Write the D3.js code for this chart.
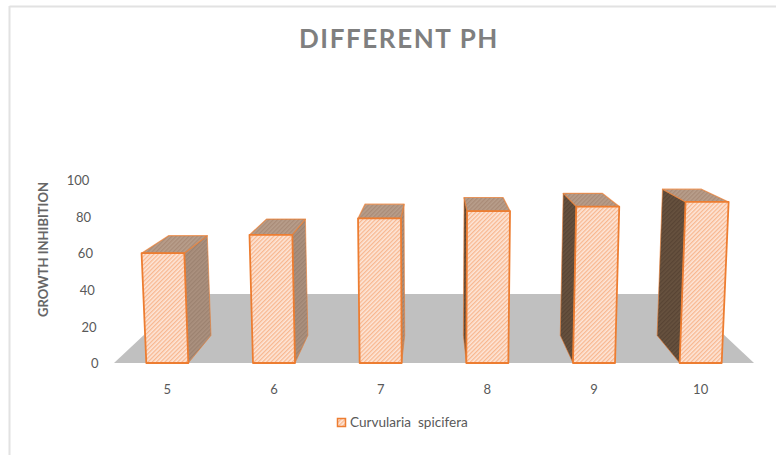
<!DOCTYPE html>
<html>
<head>
<meta charset="utf-8">
<script src="https://cdn.jsdelivr.net/npm/d3@7"></script>
<style>
  html, body { margin: 0; padding: 0; background: #fff; }
  svg { display: block; }
  text { font-family: Lato, "Open Sans", sans-serif; }
  .axis .domain { display: none; }
  .axis text { fill: #595959; font-size: 13px; }
</style>
</head>
<body>
<svg id="chart"></svg>
<script>
const categories = ["5", "6", "7", "8", "9", "10"];
const inhibition = [60, 70, 79, 83, 85.5, 88];
const yTicks = [0, 20, 40, 60, 80, 100];
const titleText = "DIFFERENT PH";
const yTitle = "GROWTH INHIBITION";
const seriesName = "Curvularia  spicifera";

const width = 776, height = 455;
const orange = "#ed7d31";

const svg = d3.select("#chart").attr("width", width).attr("height", height);

// front plane of the 3d box
const xScale = d3.scaleBand()
    .domain(categories)
    .range([114, 754])
    .paddingInner(0.606)
    .paddingOuter(0.303);

const yScale = d3.scaleLinear().domain([0, 100]).range([363, 180]);

// perspective: depth pulls towards the vanishing point, height leans away from it
const vanish = { x: 434.5, y: 63 };
const lean = 0.00015;
const barDepth = 0.092;
const floorDepth = 0.23;

function project(x, v, depth) {
    const h = yScale(0) - yScale(v);
    const fx = vanish.x + (x - vanish.x) * (1 + lean * h);
    const fy = yScale(v);
    return [fx + (vanish.x - fx) * depth, fy + (vanish.y - fy) * depth];
}

const line = pts => "M" + pts.map(p => p.join(",")).join("L") + "Z";

// patterns
const defs = svg.append("defs");
function hatch(id, bg, fg, size, sw) {
    const p = defs.append("pattern")
        .attr("id", id)
        .attr("patternUnits", "userSpaceOnUse")
        .attr("width", size)
        .attr("height", size)
        .attr("patternTransform", "rotate(45)");
    p.append("rect").attr("width", size).attr("height", size).attr("fill", bg);
    p.append("rect").attr("width", sw).attr("height", size).attr("fill", fg);
}
hatch("hatchFront", "#fde6d8", "#f8b78f", 3, 1.3);
hatch("hatchTop", "#b89e8b", "#a98b77", 3, 1.3);
hatch("hatchRight", "#ab917f", "#9c8270", 3, 1.3);
hatch("hatchLeft", "#67523f", "#584434", 3, 1.3);

// outer frame edge of the chart area
svg.append("line").attr("x1", 9.5).attr("x2", width).attr("y1", 6.5).attr("y2", 6.5)
    .attr("stroke", "#e2e2e2").attr("stroke-width", 2);
svg.append("line").attr("x1", 9.5).attr("x2", 9.5).attr("y1", 6).attr("y2", height)
    .attr("stroke", "#e2e2e2").attr("stroke-width", 2);

// floor
const [r0, r1] = xScale.range();
svg.append("path")
    .attr("d", line([project(r0, 0, 0), project(r1, 0, 0), project(r1, 0, floorDepth), project(r0, 0, floorDepth)]))
    .attr("fill", "#c0c0c0");

// title
svg.append("text")
    .attr("x", 399)
    .attr("y", 48)
    .attr("text-anchor", "middle")
    .attr("font-size", 26)
    .attr("font-weight", "bold")
    .attr("letter-spacing", 1.6)
    .attr("fill", "#7f7f7f")
    .text(titleText);

// y title
svg.append("text")
    .attr("transform", "translate(48,249.5) rotate(-90)")
    .attr("text-anchor", "middle")
    .attr("font-size", 13)
    .attr("font-weight", "bold")
    .attr("fill", "#666666")
    .text(yTitle);

// y axis, each tick follows the lean of the box
const yAxisG = svg.append("g").attr("class", "axis y-axis")
    .call(d3.axisLeft(yScale).tickValues(yTicks).tickSize(0).tickPadding(0));
yAxisG.selectAll(".tick")
    .attr("transform", d => `translate(${project(98.5, d, 0)[0]},${yScale(d) + 1})`);

// x axis
svg.append("g").attr("class", "axis x-axis")
    .attr("transform", "translate(0,381.5)")
    .call(d3.axisBottom(xScale).tickSize(0).tickPadding(3));

// bars
const data = categories.map((c, i) => ({ key: c, value: inhibition[i] }));
const bw = xScale.bandwidth();

const bars = svg.append("g").selectAll("g")
    .data(data)
    .join("g")
    .attr("class", "bar");

const corner = (d, side, v, depth) => project(xScale(d.key) + side * bw, v, depth);

// left side face shows only right of the vanishing point
bars.filter(d => xScale(d.key) > vanish.x).append("path")
    .attr("d", d => line([corner(d, 0, 0, 0), corner(d, 0, 0, barDepth), corner(d, 0, d.value, barDepth), corner(d, 0, d.value, 0)]))
    .attr("fill", "url(#hatchLeft)")
    .attr("stroke", orange).attr("stroke-opacity", 0.6).attr("stroke-width", 1);

// right side face
bars.filter(d => xScale(d.key) + bw < vanish.x).append("path")
    .attr("d", d => line([corner(d, 1, 0, 0), corner(d, 1, 0, barDepth), corner(d, 1, d.value, barDepth), corner(d, 1, d.value, 0)]))
    .attr("fill", "url(#hatchRight)")
    .attr("stroke", orange).attr("stroke-opacity", 0.6).attr("stroke-width", 1);

// top face
bars.append("path")
    .attr("d", d => line([corner(d, 0, d.value, 0), corner(d, 1, d.value, 0), corner(d, 1, d.value, barDepth), corner(d, 0, d.value, barDepth)]))
    .attr("fill", "url(#hatchTop)")
    .attr("stroke", orange).attr("stroke-opacity", 0.7).attr("stroke-width", 1.2)
    .attr("stroke-linejoin", "round");

// front face
bars.append("path")
    .attr("d", d => line([corner(d, 0, 0, 0), corner(d, 1, 0, 0), corner(d, 1, d.value, 0), corner(d, 0, d.value, 0)]))
    .attr("fill", "url(#hatchFront)")
    .attr("stroke", orange).attr("stroke-width", 1.8)
    .attr("stroke-linejoin", "round");

// legend
const legend = svg.append("g").attr("class", "legend");
legend.append("rect")
    .attr("x", 337.5).attr("y", 418.5).attr("width", 8).attr("height", 8)
    .attr("fill", "url(#hatchFront)")
    .attr("stroke", orange).attr("stroke-width", 1.5);
legend.append("text")
    .attr("x", 350)
    .attr("y", 427)
    .attr("font-size", 13.6)
    .attr("fill", "#595959")
    .attr("xml:space", "preserve")
    .style("white-space", "pre")
    .text(seriesName);
</script>
</body>
</html>
